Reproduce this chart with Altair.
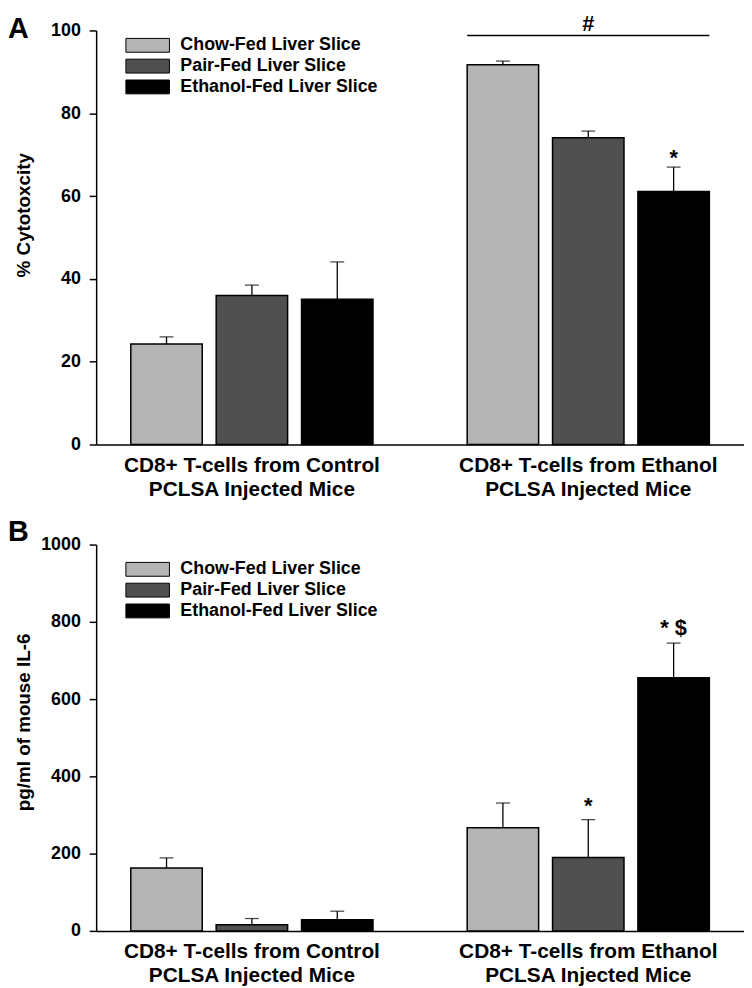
import altair as alt
import pandas as pd

FONT = "Liberation Sans"

groups = ["CD8+ T-cells from Control\nPCLSA Injected Mice",
          "CD8+ T-cells from Ethanol\nPCLSA Injected Mice"]
series = ["Chow-Fed Liver Slice", "Pair-Fed Liver Slice", "Ethanol-Fed Liver Slice"]
colors = ["#b4b4b4", "#505050", "#000000"]

# Panel A: % cytotoxicity (control group, ethanol group)
a_chow = [24.3, 91.7]
a_pair = [36.0, 74.1]
a_eth = [35.1, 61.1]
a_chow_err = [1.7, 0.9]
a_pair_err = [2.5, 1.6]
a_eth_err = [9.0, 5.9]
a_ticks = [0, 20, 40, 60, 80, 100]

# Panel B: pg/ml IL-6
b_chow = [163, 267]
b_pair = [16, 190]
b_eth = [29, 655]
b_chow_err = [26, 64]
b_pair_err = [16, 98]
b_eth_err = [22, 90]
b_ticks = [0, 200, 400, 600, 800, 1000]

# significance annotations
a_ann_group = [groups[1]]
a_ann_series = [series[2]]
a_ann_y = [67.5]
a_ann_text = ["*"]
a_hash_group = [groups[1]]
a_hash_y = [103.9]
a_hash_text = ["#"]
a_line_y = [98.8]

b_ann_group = [groups[1], groups[1]]
b_ann_series = [series[1], series[2]]
b_ann_y = [306, 767]
b_ann_text = ["*", "* $"]


def frame(vals, errs):
    rows = []
    for s, v, e in zip(series, vals, errs):
        for g, vi, ei in zip(groups, v, e):
            rows.append({"group": g, "series": s, "value": vi, "top": vi + ei})
    return pd.DataFrame(rows)


df_a = frame([a_chow, a_pair, a_eth], [a_chow_err, a_pair_err, a_eth_err])
df_b = frame([b_chow, b_pair, b_eth], [b_chow_err, b_pair_err, b_eth_err])
ann_a = pd.DataFrame({"group": a_ann_group, "series": a_ann_series, "y": a_ann_y, "text": a_ann_text})
ann_b = pd.DataFrame({"group": b_ann_group, "series": b_ann_series, "y": b_ann_y, "text": b_ann_text})
hash_a = pd.DataFrame({"group": a_hash_group, "y": a_hash_y, "text": a_hash_text, "ly": a_line_y})

W = 654
# wide legend swatch: 44 x 14 px drawn from a 14 px symbol box
SYM = "M-3.14,-1H3.14V1H-3.14Z"


def panel(df, ann, ticks, ymax, ytitle, title_y, letter, h, letter_y, letter_base,
          legend_y, extra=None):
    x = alt.X("group:N", sort=groups,
              scale=alt.Scale(paddingInner=0.28, paddingOuter=0.103),
              axis=alt.Axis(title=None, labelAngle=0, ticks=False, labelPadding=10,
                            labelFontSize=21, labelFont=FONT, labelFontWeight="bold",
                            labelColor="black", labelExpr="split(datum.label, '\\n')",
                            labelLineHeight=24, labelLimit=0,
                            domainColor="black", domainWidth=1.5))
    xo = alt.XOffset("series:N", sort=series,
                     scale=alt.Scale(paddingInner=0.163, paddingOuter=0))
    yaxis = alt.Axis(values=ticks, format="d", title=ytitle, grid=False, tickSize=7,
                     tickColor="black", tickWidth=1.5, domainColor="black", domainWidth=1.5,
                     labelFontSize=18, labelFont=FONT, labelFontWeight="bold",
                     labelColor="black", labelPadding=9,
                     titleFontSize=19, titleFont=FONT, titleFontWeight="bold",
                     titleColor="black", titleX=-63, titleY=title_y, titleAngle=270,
                     titleAlign="center", titleBaseline="bottom")
    y = alt.Y("value:Q", scale=alt.Scale(domain=[0, ymax], nice=False), axis=yaxis)
    color = alt.Color("series:N", sort=series,
                      scale=alt.Scale(domain=series, range=colors),
                      legend=alt.Legend(orient="none", legendX=43, legendY=legend_y,
                                        title=None, symbolType=SYM, symbolSize=196,
                                        symbolStrokeColor="black", symbolStrokeWidth=1,
                                        symbolOpacity=1, labelFontSize=18, labelFont=FONT,
                                        labelFontWeight="bold", labelColor="black",
                                        labelLimit=0, labelOffset=24, rowPadding=3,
                                        padding=0))
    base = alt.Chart(df)
    rule = base.mark_rule(color="black", strokeWidth=1.3).encode(
        x=x, xOffset=xo, y=alt.Y("value:Q"), y2="top:Q")
    bars = base.mark_bar(stroke="black", strokeWidth=1.5, opacity=1).encode(
        x=x, xOffset=xo, y=y, color=color)
    caps = base.mark_tick(color="black", orient="horizontal", size=14, thickness=1.3).encode(
        x=x, xOffset=xo, y=alt.Y("top:Q"))
    txt = alt.Chart(ann).mark_text(font=FONT, fontWeight="bold", fontSize=22,
                                   baseline="alphabetic", align="center", color="black").encode(
        x=x, xOffset=xo, y=alt.Y("y:Q"), text="text:N")
    lab = alt.Chart(pd.DataFrame({"t": [letter]})).mark_text(
        font=FONT, fontWeight="bold", fontSize=29, baseline=letter_base, align="left",
        color="black").encode(text="t:N", x=alt.value(-89), y=alt.value(letter_y))
    layers = [rule, bars, caps, txt, lab]
    if extra is not None:
        layers += extra(x)
    return alt.layer(*layers).properties(width=W, height=h)


def hash_layers(x):
    hb = alt.Chart(hash_a)
    line = hb.mark_rule(color="black", strokeWidth=1.5).encode(
        x=alt.X("group:N", sort=groups, bandPosition=0),
        x2=alt.X2("group:N", bandPosition=1),
        y=alt.Y("ly:Q"))
    t = hb.mark_text(font=FONT, fontWeight="bold", fontSize=22, baseline="top",
                     align="center", color="black").encode(
        x=alt.X("group:N", sort=groups), y=alt.Y("y:Q"), text="text:N")
    return [line, t]


pa = panel(df_a, ann_a, a_ticks, 100, "% Cytotoxcity", 186, "A", 418, -15, "top", 6,
           extra=hash_layers)
pb = panel(df_b, ann_b, b_ticks, 1000, "pg/ml of mouse IL-6", 179, "B", 390, -4,
           "alphabetic", 16)

chart = alt.vconcat(pa, pb, spacing=19).resolve_scale(
    color="independent", x="independent", y="independent", xOffset="independent"
).resolve_legend(color="independent").configure_view(stroke=None).properties(
    padding=0, background="white")

chart.save("out.html", embed_options={"renderer": "svg", "actions": False})
